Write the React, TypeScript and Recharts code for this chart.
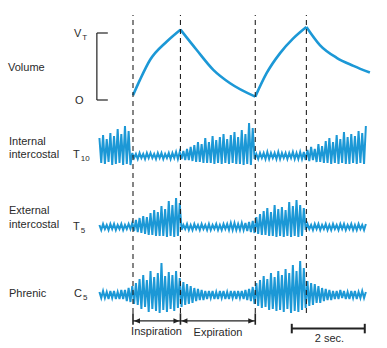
import React from "react";
import { LineChart, Line, XAxis, YAxis, ReferenceLine } from "recharts";

const W = 387;
const H = 348;
const BLUE = "#1c98d6";
const INK = "#222";

// respiratory phase boundaries (s): insp start, insp end / exp start, exp end, 2nd insp end
const phaseTimes = [0, 1.3, 3.35, 4.75];
const phaseNames = ["Inspiration", "Expiration"];

// lung volume (fraction of tidal volume VT)
const volTime = [0, 0.19, 0.47, 0.92, 1.3, 1.74, 2.2, 2.66, 3.35, 3.66, 4.03, 4.39, 4.75, 5.12, 5.58, 6.04, 6.49];
const volValue = [0.07, 0.3, 0.6, 0.87, 1.05, 0.75, 0.45, 0.25, 0.05, 0.4, 0.7, 0.92, 1.09, 0.82, 0.63, 0.51, 0.41];

// EMG samples, 20 Hz display rate, starting at -0.92 s
const sampleStart = -0.92;
const sampleStep = 0.05;

const internalT10 = [
  18, -7, 21, -8, 17, -6, 23, -9, 20, -8, 27, -7, 22, -9, 30, -8, 25, -9,
  3, -2, 2, -3, 3, -2, 2, -3, 3, -2, 3, -2, 2, -3, 3, -2, 3, -3, 2, -2, 3, -3, 3, -2, 4, -3,
  4, -3, 5, -4, 7, -4, 9, -5, 11, -6, 14, -6, 12, -7, 18, -7, 14, -7, 20, -8, 16, -7, 19, -8, 22, -7,
  17, -8, 21, -7, 24, -8, 19, -8, 26, -9, 22, -8, 33, -9, 28,
  -3, 2, -3, 3, -2, 3, -3, 4, -3, 3, -2, 3, -3, 4, -3, 3, -2, 3, -3, 3, -2, 4, -3, 3, -3, 4, -3, 4,
  -4, 6, -5, 9, -4, 7, -6, 12, -6, 10, -7, 15, -7, 18, -8, 14, -7, 21, -8, 17, -7, 24, -8, 19, -8, 22,
  -7, 20, -8, 25, -7, 23, -8, 30,
];

const externalT5 = [
  2, -3, 3, -2, 2, -3, 3, -2, 3, -3, 2, -2, 3, -3, 2, -2, 3, -2,
  4, -4, 7, -5, 9, -6, 11, -7, 10, -8, 14, -8, 17, -9, 15, -9, 21, -9, 18, -10, 26, -9, 22, -10, 29, -9, 24,
  -3, 2, -2, 3, -3, 2, -3, 3, -2, 2, -3, 3, -2, 2, -3, 3, -3, 2, -2, 3, -3, 2, -3, 3, -2, 3, -3, 4, -3, 4,
  -3, 3, -3, 4, -3, 4, -4, 5, -5, 6,
  -6, 10, -7, 13, -8, 16, -8, 19, -9, 15, -9, 22, -10, 18, -9, 20, -10, 17, -9, 25, -10, 21, -9, 27, -10, 22, -9, 19,
  -3, 3, -2, 2, -3, 3, -2, 3, -3, 2, -2, 3, -3, 2, -3, 3, -2, 2, -3, 3, -2, 3, -3, 2, -2, 3, -3, 2, -3, 3,
  -2, 2, -3, 3,
];

const phrenicC5 = [
  3, -3, 4, -3, 3, -4, 4, -3, 4, -4, 3, -4, 5, -4, 5, -6, 7, -7,
  9, -9, 12, -10, 16, -14, 20, -12, 15, -17, 24, -14, 18, -16, 22, -18, 32, -15, 19, -17, 23, -14, 20, -16, 24, -13, 17,
  -12, 13, -10, 11, -9, 9, -8, 7, -6, 6, -5, 5, -5, 4, -4, 4, -3, 4, -4, 3, -4, 4, -3, 4, -4, 3, -4, 4, -3, 4,
  -4, 4, -3, 4, -4, 5, -5, 6, -6, 8,
  -9, 12, -11, 15, -13, 19, -12, 16, -15, 22, -14, 18, -16, 24, -15, 20, -17, 26, -14, 22, -18, 30, -16, 24, -17, 34, -15, 27,
  -13, 14, -11, 12, -10, 11, -8, 9, -8, 7, -6, 6, -5, 5, -5, 4, -4, 4, -4, 5, -3, 4, -4, 3, -4, 4, -3, 4, -4, 3,
  -3, 4, -3, 3,
];

const scaleBarStart = 4.35;
const scaleBarLength = 2; // "2 sec."

// ---------- derived tables ----------
const emgRows = internalT10.map((v, i) => ({
  t: sampleStart + i * sampleStep,
  ic: v,
  ec: externalT5[i],
  ph: phrenicC5[i],
}));

const volRows = volTime.map((t, j) => {
  const row: any = { t };
  phaseTimes.forEach((lo, s) => {
    const hi = s + 1 < phaseTimes.length ? phaseTimes[s + 1] : Infinity;
    if (t >= lo && t <= hi) row[`s${s}`] = volValue[j];
  });
  return row;
});

const xDomain = [-1.2, 6.6];
const sideMargin = { left: 89.2, right: 13.1 };

// baselines of the three EMG rows (px within 15..313 band)
const emgTop = 15;
const emgBottom = 313;
const band = (base: number) => [-(emgBottom - base), base - emgTop];

const layer: React.CSSProperties = { position: "absolute", left: 0, top: 0 };

const DoubleArrow = (p: any) => {
  const { x1, y1, x2 } = p;
  const a = 6;
  const w = 2.6;
  return (
    <g>
      <line x1={x1} y1={y1} x2={x2} y2={y1} stroke={INK} strokeWidth={1.2} />
      <path d={`M${x1 + 1},${y1} l${a},${-w} v${2 * w} z`} fill={INK} />
      <path d={`M${x2 - 1},${y1} l${-a},${-w} v${2 * w} z`} fill={INK} />
    </g>
  );
};

const txt: React.CSSProperties = {
  position: "absolute",
  fontFamily: '"Liberation Sans", Arial, sans-serif',
  fontSize: 11,
  color: "#2a2a2a",
  lineHeight: 1,
  whiteSpace: "nowrap",
};

function Label({ x, y, center, children }: any) {
  return (
    <div
      style={{
        ...txt,
        left: x,
        top: y,
        transform: center ? "translate(-50%, -50%)" : "translateY(-50%)",
      }}
    >
      {children}
    </div>
  );
}

const Sub = ({ children }: any) => (
  <span style={{ fontSize: 8, position: "relative", top: 3, marginLeft: 1 }}>{children}</span>
);

const emgLine = { type: "linear" as const, stroke: BLUE, strokeWidth: 2, dot: false, isAnimationActive: false };

export default function App() {
  return (
    <div style={{ position: "absolute", left: 0, top: 0, width: W, height: H, background: "#fff" }}>
      {/* volume trace + VT bracket */}
      <div style={layer}>
        <LineChart
          width={W}
          height={H}
          data={volRows}
          margin={{ top: 19.6, bottom: 241.3, ...sideMargin }}
        >
          <XAxis type="number" dataKey="t" domain={xDomain} hide allowDataOverflow />
          <YAxis type="number" domain={[-0.1, 1.2]} hide />
          <ReferenceLine
            segment={[{ x: -0.99, y: 0 }, { x: -0.99, y: 1 }]}
            stroke={INK}
            strokeWidth={1.2}
          />
          <ReferenceLine
            segment={[{ x: -0.99, y: 1 }, { x: -0.69, y: 1 }]}
            stroke={INK}
            strokeWidth={1.2}
          />
          <ReferenceLine
            segment={[{ x: -0.99, y: 0 }, { x: -0.69, y: 0 }]}
            stroke={INK}
            strokeWidth={1.2}
          />
          {phaseTimes.map((_, s) => (
            <Line
              key={s}
              type="monotone"
              dataKey={`s${s}`}
              stroke={BLUE}
              strokeWidth={2.6}
              dot={false}
              isAnimationActive={false}
            />
          ))}
        </LineChart>
      </div>

      {/* EMG traces + phase markers */}
      <div style={layer}>
        <LineChart
          width={W}
          height={H}
          data={emgRows}
          margin={{ top: emgTop, bottom: H - emgBottom, ...sideMargin }}
        >
          <XAxis type="number" dataKey="t" domain={xDomain} hide allowDataOverflow />
          <YAxis yAxisId="ic" type="number" domain={band(156)} hide />
          <YAxis yAxisId="ec" type="number" domain={band(227)} hide />
          <YAxis yAxisId="ph" type="number" domain={band(295)} hide />
          <Line yAxisId="ic" dataKey="ic" {...emgLine} />
          <Line yAxisId="ec" dataKey="ec" {...emgLine} />
          <Line yAxisId="ph" dataKey="ph" {...emgLine} />
          {phaseTimes.map((t) => (
            <ReferenceLine key={t} yAxisId="ic" x={t} stroke={INK} strokeWidth={1.1} strokeDasharray="5 4" />
          ))}
        </LineChart>
      </div>

      {/* phase arrows and time scale */}
      <div style={layer}>
        <LineChart width={W} height={H} data={volRows} margin={{ top: 300, bottom: 8, ...sideMargin }}>
          <XAxis type="number" dataKey="t" domain={xDomain} hide allowDataOverflow />
          <YAxis type="number" domain={[0, 1]} hide />
          <Line dataKey="s0" stroke="none" dot={false} isAnimationActive={false} legendType="none" />
          {phaseNames.map((n, k) => (
            <ReferenceLine
              key={n}
              segment={[{ x: phaseTimes[k], y: 0.5 }, { x: phaseTimes[k + 1], y: 0.5 }]}
              shape={DoubleArrow}
            />
          ))}
          {phaseTimes.slice(0, 3).map((t) => (
            <ReferenceLine
              key={t}
              segment={[{ x: t, y: 0.4 }, { x: t, y: 0.7 }]}
              stroke={INK}
              strokeWidth={1.6}
            />
          ))}
          <ReferenceLine
            segment={[{ x: scaleBarStart, y: 0.3 }, { x: scaleBarStart + scaleBarLength, y: 0.3 }]}
            stroke={INK}
            strokeWidth={2}
          />
          <ReferenceLine
            segment={[{ x: scaleBarStart, y: 0.175 }, { x: scaleBarStart, y: 0.425 }]}
            stroke={INK}
            strokeWidth={2}
          />
          <ReferenceLine
            segment={[{ x: scaleBarStart + scaleBarLength, y: 0.175 }, { x: scaleBarStart + scaleBarLength, y: 0.425 }]}
            stroke={INK}
            strokeWidth={2}
          />
        </LineChart>
      </div>

      <Label x={8} y={67}>Volume</Label>
      <Label x={74} y={33}>
        V<Sub>T</Sub>
      </Label>
      <Label x={75} y={100}>O</Label>

      <Label x={9} y={140.5}>Internal</Label>
      <Label x={9} y={154}>intercostal</Label>
      <Label x={73} y={153.5}>
        T<Sub>10</Sub>
      </Label>

      <Label x={9} y={210}>External</Label>
      <Label x={9} y={224}>intercostal</Label>
      <Label x={73} y={226}>
        T<Sub>5</Sub>
      </Label>

      <Label x={9} y={293}>Phrenic</Label>
      <Label x={74} y={293}>
        C<Sub>5</Sub>
      </Label>

      <Label x={156.5} y={331} center>
        {phaseNames[0]}
      </Label>
      <Label x={218} y={331.5} center>
        {phaseNames[1]}
      </Label>
      <Label x={329.5} y={337.5} center>
        {scaleBarLength} sec.
      </Label>
    </div>
  );
}
